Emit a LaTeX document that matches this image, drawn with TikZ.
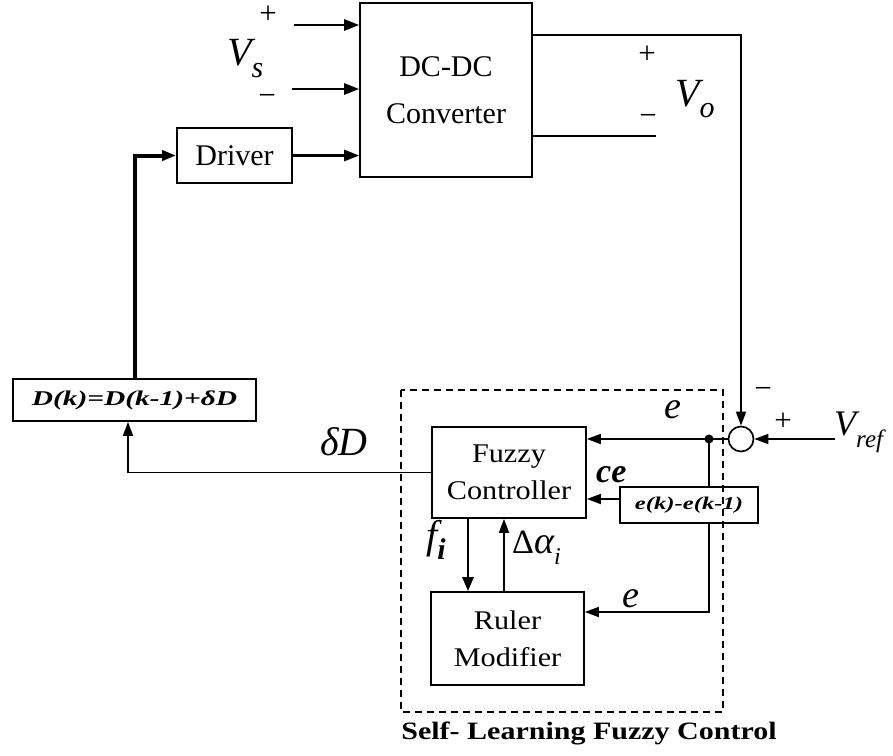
\documentclass[tikz,border=0pt]{standalone}
\usepackage{fontspec}
\setmainfont{Liberation Serif}
\usepackage{graphicx}
\usetikzlibrary{arrows.meta}
\newcommand\hsx[2]{\scalebox{#1}[1]{#2}}
\begin{document}
\begin{tikzpicture}[x=1pt,y=-1pt,
  blk/.style={draw, line width=1.7pt, inner sep=0pt, align=center},
  wire/.style={line width=1.7pt},
  arr/.style={line width=1.7pt, -{Triangle[length=14pt,width=10pt]}},
  lbl/.style={inner sep=0pt, anchor=base west},
  sgn/.style={inner sep=0pt, font=\fontsize{31}{31}\selectfont}
]
\useasboundingbox (0,0) rectangle (893,755);

% blocks
\node[blk, minimum width=172pt, minimum height=174pt, font=\fontsize{30}{47}\selectfont] (conv) at (446,90) {DC-DC\\Converter};
\node[blk, minimum width=115pt, minimum height=55pt, font=\fontsize{30}{30}\selectfont] (driver) at (234.5,155.5) {Driver};
\node[blk, minimum width=243pt, minimum height=42pt] (dk) at (134.5,400) {\hsx{1.4}{\fontsize{21}{21}\selectfont\bfseries\itshape D(k)=D(k-1)+δD}};
\node[blk, minimum width=154pt, minimum height=91pt, font=\fontsize{27}{37}\selectfont] (fuzzy) at (509,472.5) {\hsx{1.12}{Fuzzy}\\\hsx{1.12}{Controller}};
\node[blk, minimum width=153pt, minimum height=93pt, font=\fontsize{27}{37}\selectfont] (ruler) at (507.5,638.5) {\hsx{1.12}{Ruler}\\\hsx{1.12}{Modifier}};
\node[blk, minimum width=138pt, minimum height=36pt] (ediff) at (689,505) {\hsx{1.37}{\fontsize{18}{18}\selectfont\bfseries\itshape e(k)-e(k-1)}};
\node[draw, circle, line width=1.7pt, minimum size=25pt, inner sep=0pt] (sum) at (741,439) {};

% dashed frame
\draw[line width=1.9pt, dash pattern=on 7pt off 5pt] (401,390) rectangle (723,712);
\node[inner sep=0pt] (title) at (589,733) {\hsx{1.2}{\fontsize{25}{25}\selectfont\bfseries Self- Learning Fuzzy Control}};

% helper coordinates
\coordinate (vsp) at (294,25);
\coordinate (vsm) at (292,89);
\coordinate (otop) at (0,35);
\coordinate (obot) at (0,136);
\coordinate (oend) at (656,136);
\coordinate (vref) at (835,439);
\coordinate (dot) at (709,439);
\coordinate (cey) at (0,499);
\coordinate (ey) at (0,612);
\coordinate (fx) at (468,0);
\coordinate (ax) at (504,0);
\coordinate (dx) at (128,0);

% connectors
\draw[line width=2.6pt, -{Triangle[length=15pt,width=11pt]}] (vsp) -- (vsp -| conv.west);
\draw[line width=2.6pt, -{Triangle[length=15pt,width=11pt]}] (vsm) -- (vsm -| conv.west);
\draw[line width=2.6pt, -{Triangle[length=15pt,width=11pt]}] (driver.east) -- (driver.east -| conv.west);
\draw[line width=4pt, -{Triangle[length=14pt,width=10pt]}] (dk.north) |- (driver.west);
\draw[arr] (conv.east |- otop) -| (sum.north);
\draw[wire] (conv.east |- obot) -- (oend);
\draw[arr] (vref) -- (sum.east);
\draw[arr] (sum.west) -- (fuzzy.east |- sum.west);
\fill (dot) circle (4.5pt);
\draw[wire] (dot) -- (dot |- ediff.north);
\draw[arr] (ediff.west |- cey) -- (fuzzy.east |- cey);
\draw[arr] (dot |- ediff.south) |- (ruler.east |- ey);
\draw[line width=2.6pt, -{Triangle[length=14pt,width=11pt]}] (fuzzy.south -| fx) -- (ruler.north -| fx);
\draw[arr] (ruler.north -| ax) -- (fuzzy.south -| ax);
\draw[arr] (fuzzy.west) -| (dk.south -| dx);

% labels
\node[lbl, font=\fontsize{40}{40}\selectfont\itshape] (vs) at (227,65) {V\raisebox{-0.3em}{\fontsize{30}{30}\selectfont s}};
\node[sgn] (vsplus) at (268,15) {+};
\node[sgn] (vsminus) at (267,100) {−};
\node[lbl, font=\fontsize{40}{40}\selectfont\itshape] (vo) at (675,106) {V\raisebox{-0.28em}{\fontsize{30}{30}\selectfont o}};
\node[sgn] (voplus) at (647,55) {+};
\node[sgn] (vominus) at (648,120) {−};
\node[lbl, font=\fontsize{36}{36}\selectfont\itshape] (vr) at (834,435) {V\raisebox{-0.35em}{\fontsize{25}{25}\selectfont ref}};
\node[sgn] (sminus) at (763,393) {−};
\node[sgn] (splus) at (783,422) {+};
\node[lbl, font=\fontsize{38}{38}\selectfont\itshape] (etop) at (664,418) {e};
\node[lbl, font=\fontsize{34}{34}\selectfont\bfseries\itshape] (ce) at (596,482) {ce};
\node[lbl, font=\fontsize{38}{38}\selectfont\itshape] (ebot) at (622,607) {e};
\node[lbl, font=\fontsize{40}{40}\selectfont\itshape] (dd) at (320,455) {δD};
\node[lbl, font=\fontsize{40}{40}\selectfont\itshape] (fi) at (426,548) {f\raisebox{-0.28em}{\fontsize{30}{30}\selectfont\bfseries i}};
\node[lbl, font=\fontsize{34}{34}\selectfont] (da) at (512,553) {Δ\fontsize{38}{38}\selectfont\itshape α\raisebox{-0.3em}{\fontsize{24}{24}\selectfont i}};
\end{tikzpicture}
\end{document}
